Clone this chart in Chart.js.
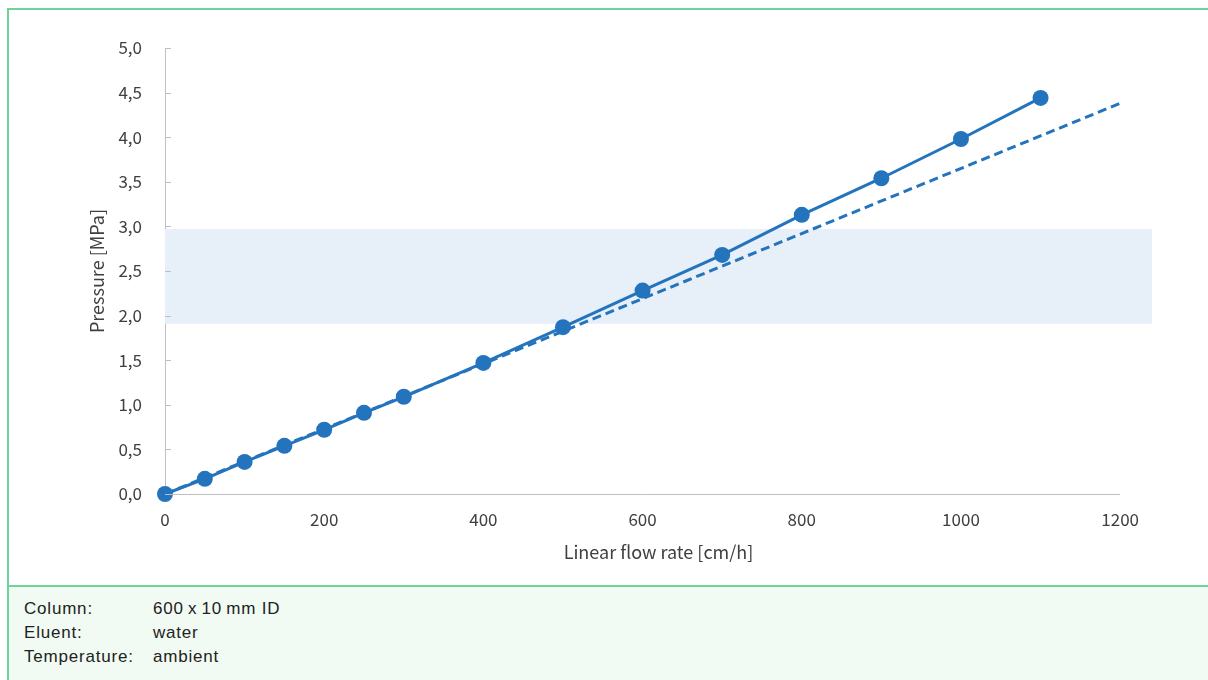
<!DOCTYPE html>
<html>
<head>
<meta charset="utf-8">
<script src="https://cdn.jsdelivr.net/npm/chart.js@4.4.1/dist/chart.umd.min.js"></script>
<style>
    body { margin: 0; width: 1208px; height: 680px; background: #fff; position: relative; overflow: hidden; }
    #chart { position: absolute; left: 0; top: 0; }
    #frame { position: absolute; left: 7px; top: 8px; width: 1210px; height: 575px; border-top: 2px solid #6dd39b; border-left: 2px solid #6dd39b; border-bottom: 2px solid #6dd39b; pointer-events: none; }
    #info { position: absolute; left: 7px; top: 587px; width: 1210px; height: 93px; background: #f1faf3; border-left: 2px solid #6dd39b; font-family: "Liberation Sans", Arial, sans-serif; font-size: 17px; letter-spacing: 0.8px; color: #222; }
    #info div { position: absolute; left: 15px; line-height: 24px; }
    #info span { position: absolute; left: 129px; white-space: nowrap; }
</style>
</head>
<body>
<canvas id="chart" width="1208" height="585"></canvas>
<div id="frame"></div>
<div id="info">
    <div style="top: 10px">Column:<span>600&#8201;x&#8201;10&#8201;mm ID</span></div>
    <div style="top: 34px">Eluent:<span>water</span></div>
    <div style="top: 58px">Temperature:<span>ambient</span></div>
</div>
<script>
// measured pressure vs linear flow rate
const flowRates = [0, 50, 100, 150, 200, 250, 300, 400, 500, 600, 700, 800, 900, 1000, 1100]
const pressures = [0, 0.17, 0.36, 0.54, 0.72, 0.91, 1.09, 1.47, 1.87, 2.28, 2.68, 3.13, 3.54, 3.98, 4.44]

// linear reference (dashed)
const refFlow = [0, 1200]
const refPressure = [0, 4.38]

// shaded operating range
const bandFlow = [0, 1240]
const bandLow = 1.91
const bandHigh = 2.97

const xTicks = [0, 200, 400, 600, 800, 1000, 1200]
const yTicks = [0, 0.5, 1, 1.5, 2, 2.5, 3, 3.5, 4, 4.5, 5]

const blue = '#2473bd'
const axisGray = '#bfbfbf'
const textColor = '#404040'
const tickFont = { family: '"Noto Sans CJK JP", "Noto Sans", sans-serif', size: 17 }
const titleFont = { family: '"Noto Sans CJK JP", "Noto Sans", sans-serif', size: 18 }

// axis lines and inward y ticks, placed through the scales
const axisLines = {
    id: 'axisLines',
    afterDraw(chart) {
        const ctx = chart.ctx
        const y = chart.scales.y
        const x = chart.scales.x
        const x0 = x.getPixelForValue(xTicks[0])
        const x1 = x.getPixelForValue(xTicks[xTicks.length - 1])
        const yBase = Math.round(y.getPixelForValue(0)) + 0.5
        ctx.save()
        ctx.strokeStyle = axisGray
        ctx.lineWidth = 1
        ctx.beginPath()
        ctx.moveTo(x0, yBase)
        ctx.lineTo(x1, yBase)
        yTicks.forEach((v) => {
            const py = Math.round(y.getPixelForValue(v)) + 0.5
            ctx.moveTo(x0, py)
            ctx.lineTo(x0 + 6, py)
        })
        ctx.stroke()
        ctx.restore()
    }
}

const ctx = document.getElementById('chart').getContext('2d')
new Chart(ctx, {
    type: 'line',
    data: {
        datasets: [
            {
                label: 'measured',
                data: flowRates.map((f, i) => ({ x: f, y: pressures[i] })),
                borderColor: blue,
                backgroundColor: blue,
                borderWidth: 3,
                pointRadius: 8,
                pointHoverRadius: 8,
                pointBorderWidth: 0,
                clip: false,
                order: 0
            },
            {
                label: 'reference',
                data: refFlow.map((f, i) => ({ x: f, y: refPressure[i] })),
                borderColor: blue,
                borderWidth: 3,
                borderDash: [9, 5],
                pointRadius: 0,
                fill: false,
                order: 1
            },
            {
                label: 'range',
                data: bandFlow.map((f) => ({ x: f, y: bandHigh })),
                borderWidth: 0,
                borderColor: 'rgba(0,0,0,0)',
                backgroundColor: '#e7eff8',
                pointRadius: 0,
                fill: { value: bandLow },
                order: 2
            }
        ]
    },
    options: {
        responsive: false,
        devicePixelRatio: 1,
        animation: false,
        events: [],
        layout: { padding: { left: 0, top: 48, right: 56, bottom: 0 } },
        plugins: {
            legend: { display: false },
            tooltip: { enabled: false }
        },
        scales: {
            x: {
                type: 'linear',
                min: 0,
                max: 1240,
                afterFit: (s) => { s.height = 91 },
                afterBuildTicks: (s) => { s.ticks = xTicks.map((v) => ({ value: v })) },
                grid: { display: false, drawTicks: false },
                border: { display: false },
                ticks: { color: textColor, font: tickFont, padding: 15, maxRotation: 0, callback: (v) => String(v) },
                title: { display: true, text: 'Linear flow rate [cm/h]', color: textColor, font: titleFont, padding: { top: 0, bottom: 22 } }
            },
            y: {
                min: 0,
                max: 5,
                afterFit: (s) => { s.width = 165 },
                afterBuildTicks: (s) => { s.ticks = yTicks.map((v) => ({ value: v })) },
                grid: { display: false, drawTicks: false },
                border: { display: true, color: axisGray, width: 1 },
                ticks: {
                    color: textColor,
                    font: tickFont,
                    padding: 23,
                    callback: (v) => v.toFixed(1).replace('.', ',')
                },
                title: { display: true, text: 'Pressure [MPa]', color: textColor, font: titleFont, padding: { top: 86, bottom: 0 } }
            }
        }
    },
    plugins: [axisLines]
})
</script>
</body>
</html>
